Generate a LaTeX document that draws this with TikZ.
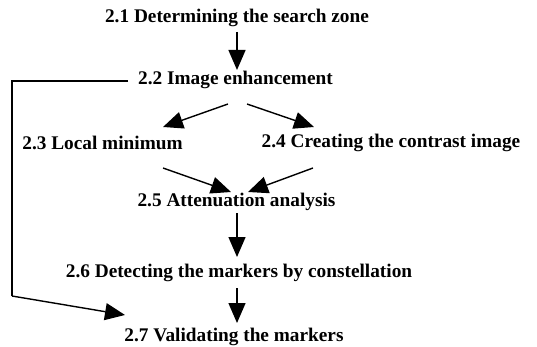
\documentclass[tikz,border=0pt]{standalone}
\usepackage{fontspec}
\setmainfont{Liberation Serif}
\usetikzlibrary{arrows.meta,calc}
\begin{document}
\begin{tikzpicture}[x=1pt,y=1pt,
  lbl/.style={font=\fontsize{19.3}{22}\selectfont\bfseries, inner sep=0pt},
  conn/.style={line width=1.4pt, -{Triangle[length=20pt,width=17pt]}},
  plain/.style={line width=1.2pt}]
\useasboundingbox (0,0) rectangle (537,-347);
\node[lbl] (n21) at (237,-18) {2.1 Determining the search zone};
\node[lbl] (n22) at (235.5,-80) {2.2 Image enhancement};
\node[lbl] (n23) at (102.5,-143) {2.3 Local minimum};
\node[lbl] (n24) at (391,-143) {2.4 Creating the contrast image};
\node[lbl] (n25) at (236.5,-202) {2.5 Attenuation analysis};
\node[lbl] (n26) at (239,-273) {2.6 Detecting the markers by constellation};
\node[lbl] (n27) at (234,-337) {2.7 Validating the markers};
\draw[conn] ($(n21)+(0,-14)$) -- ($(n22)+(1.5,10)$);
\draw[conn] ($(n22)+(-7.5,-24)$) -- ($(n23)+(60.5,16)$);
\draw[conn] ($(n22)+(11.5,-24)$) -- ($(n24)+(-77,16)$);
\draw[conn] ($(n23)+(60.5,-25)$) -- ($(n25)+(-5.5,10)$);
\draw[conn] ($(n24)+(-78,-25)$) -- ($(n25)+(11.5,10)$);
\draw[conn] ($(n25)+(0.5,-11)$) -- ($(n26)+(-2,16)$);
\draw[conn] ($(n26)+(-2,-15)$) -- ($(n27)+(3,14)$);
\coordinate (fb1) at ($(n22)+(-107.5,-1)$);
\draw[plain] (fb1) -- (12,-81) -- (12,-296);
\draw[conn] (12,-296) -- ($(n27)+(-109,22)$);
\end{tikzpicture}
\end{document}
